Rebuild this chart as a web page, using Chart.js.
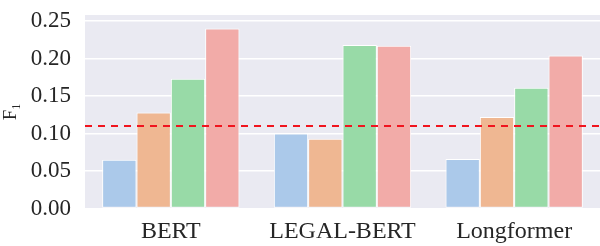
<!DOCTYPE html>
<html>
<head>
<meta charset="utf-8">
<script src="https://cdn.jsdelivr.net/npm/chart.js@4"></script>
<style>
html,body{margin:0;padding:0;background:#fff;}
#wrap{width:600px;height:246px;position:relative;}
</style>
</head>
<body>
<div id="wrap"><canvas id="c" width="600" height="246"></canvas></div>
<script>
const categories = ["BERT", "LEGAL-BERT", "Longformer"];
const seriesA = [0.065, 0.100, 0.066];
const seriesB = [0.128, 0.093, 0.122];
const seriesC = [0.173, 0.218, 0.161];
const seriesD = [0.240, 0.217, 0.204];
const baselineValue = [0.11];
const yTickStep = 0.05;
const yMin = 0;
const yMax = 0.258;

const colors = ["#abc9ea", "#efb792", "#98daa7", "#f2aba8"];
const serif = "'Liberation Serif', 'Times New Roman', serif";

const bgPlugin = {
  id: 'bg',
  beforeDraw(chart) {
    const {ctx, chartArea: a} = chart;
    ctx.save();
    ctx.fillStyle = '#eaeaf2';
    ctx.fillRect(a.left, a.top, a.right - a.left, a.bottom - a.top);
    ctx.restore();
  }
};

const baselinePlugin = {
  id: 'baseline',
  afterDatasetsDraw(chart) {
    const {ctx, chartArea: a, scales} = chart;
    ctx.save();
    ctx.strokeStyle = '#f0141e';
    ctx.lineWidth = 2;
    ctx.setLineDash([7, 6]);
    baselineValue.forEach(v => {
      const y = scales.y.getPixelForValue(v);
      ctx.beginPath();
      ctx.moveTo(a.left, y);
      ctx.lineTo(a.right, y);
      ctx.stroke();
    });
    ctx.restore();
  }
};

new Chart(document.getElementById('c'), {
  type: 'bar',
  data: {
    labels: categories,
    datasets: [seriesA, seriesB, seriesC, seriesD].map((d, i) => ({
      label: 'Series ' + (i + 1),
      data: d,
      backgroundColor: colors[i],
      borderColor: '#ffffff',
      borderWidth: 1,
      borderSkipped: false,
      categoryPercentage: 0.8,
      barPercentage: 1.0
    }))
  },
  options: {
    responsive: false,
    animation: false,
    layout: {padding: 0},
    plugins: {legend: {display: false}, tooltip: {enabled: false}},
    scales: {
      x: {
        type: 'category',
        offset: true,
        grid: {display: false, drawTicks: false},
        border: {display: false},
        ticks: {color: '#262626', font: {family: serif, size: 24}, padding: 9, maxRotation: 0},
        afterFit(s) { s.height = 37.5; s.paddingLeft = 0; s.paddingRight = 0; }
      },
      y: {
        min: yMin,
        max: yMax,
        grid: {color: '#ffffff', lineWidth: 1.5, drawTicks: false},
        border: {display: false},
        ticks: {
          stepSize: yTickStep,
          includeBounds: false,
          color: '#262626',
          font: {family: serif, size: 23},
          padding: 14,
          callback: v => Number(v).toFixed(2)
        },
        title: {display: true, text: 'F₁', color: '#262626', font: {family: serif, size: 19}, padding: {top: 0, bottom: 0}},
        afterFit(s) { s.width = 85; s.paddingTop = 15; s.paddingBottom = 0; }
      }
    }
  },
  plugins: [bgPlugin, baselinePlugin]
});
</script>
</body>
</html>
